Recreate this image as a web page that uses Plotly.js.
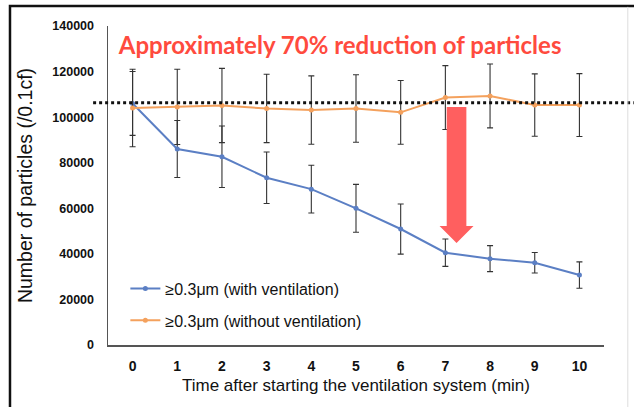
<!DOCTYPE html>
<html>
<head>
<meta charset="utf-8">
<script src="https://cdn.plot.ly/plotly-3.0.1.min.js"></script>
<style>html,body{margin:0;padding:0;background:#fff;}#chart{width:634px;height:407px;}</style>
</head>
<body>
<div id="chart"></div>
<script>
// ---- data ----
const minutes = [0, 1, 2, 3, 4, 5, 6, 7, 8, 9, 10];
const withVent = [106000, 86000, 82600, 73400, 68400, 60000, 50900, 40500, 37900, 36100, 30700];
const withVentErr = [14000, 12500, 13500, 11300, 10500, 10500, 11000, 6000, 5700, 4500, 5800];
const withoutVent = [104000, 104500, 105100, 103800, 103100, 103800, 102100, 108600, 109300, 105300, 105300];
const withoutVentErr = [17000, 16500, 16300, 15000, 15000, 14800, 14000, 14000, 14000, 13700, 13800];
const seriesNames = ['≥0.3μm (with ventilation)', '≥0.3μm (without ventilation)'];
const baselineLevel = 106300;
const titleText = 'Approximately 70% reduction of particles';
const yTickVals = [0, 20000, 40000, 60000, 80000, 100000, 120000, 140000];

// arrow annotation geometry (data coordinates)
const arrowX = 7.25, arrowTop = 104500, arrowNeck = 52200, arrowTip = 44800;
const bodyHalf = 0.22, headHalf = 0.38;

const errStyle = {type: 'data', visible: true, color: '#333', thickness: 1.1, width: 3};

const traces = [
  {x: minutes, y: withVent, name: seriesNames[0], type: 'scatter', mode: 'lines+markers', legendgroup: 'a',
   line: {color: '#5B7FC4', width: 2}, marker: {color: '#5B7FC4', size: 5},
   error_y: Object.assign({array: withVentErr}, errStyle)},
  {x: minutes, y: withoutVent, name: seriesNames[1], type: 'scatter', mode: 'lines+markers', legendgroup: 'b',
   line: {color: '#F4A15D', width: 2}, marker: {color: '#F4A15D', size: 5},
   error_y: Object.assign({array: withoutVentErr}, errStyle)}
];

const arrowPath = `M ${arrowX - bodyHalf},${arrowTop} L ${arrowX + bodyHalf},${arrowTop} L ${arrowX + bodyHalf},${arrowNeck} L ${arrowX + headHalf},${arrowNeck} L ${arrowX},${arrowTip} L ${arrowX - headHalf},${arrowNeck} L ${arrowX - bodyHalf},${arrowNeck} Z`;

const font = 'Liberation Sans, Arial, sans-serif';
const layout = {
  width: 634, height: 407,
  margin: {l: 108, r: 30, t: 26, b: 62},
  paper_bgcolor: '#fff', plot_bgcolor: '#fff',
  showlegend: true,
  title: {text: titleText, xref: 'paper', x: 0.468, xanchor: 'center', yref: 'paper', y: 0.94, yanchor: 'middle',
          font: {family: 'Lato, Open Sans, sans-serif', size: 24, color: '#FF4B3E', weight: 'bold'}},
  xaxis: {range: [-0.55, 10.55], tickmode: 'array', tickvals: minutes, ticktext: minutes.map(String),
          showgrid: false, zeroline: false, showline: true, linecolor: '#555', linewidth: 1.5, ticks: '',
          ticklabelstandoff: 8,
          tickfont: {family: font, size: 14, color: '#111', weight: 'bold'},
          title: {text: 'Time after starting the ventilation system (min)', standoff: 6,
                  font: {family: font, size: 17, color: '#111'}}},
  yaxis: {range: [0, 140000], tickmode: 'array', tickvals: yTickVals, ticktext: yTickVals.map(String),
          showgrid: false, zeroline: false, showline: true, linecolor: '#555', linewidth: 1.5, ticks: '',
          ticklabelstandoff: 10,
          tickfont: {family: font, size: 12.5, color: '#111', weight: 'bold'},
          title: {text: 'Number of particles (/0.1cf)', standoff: 14,
                  font: {family: font, size: 19.5, color: '#111'}}},
  legend: {x: 0.035, y: 0.23, xanchor: 'left', yanchor: 'top', bgcolor: 'rgba(0,0,0,0)',
           traceorder: 'grouped', tracegroupgap: 8,
           font: {family: font, size: 16, color: '#111'}, itemwidth: 30},
  shapes: [
    {type: 'line', xref: 'paper', yref: 'y', x0: -0.03, x1: 1.06, y0: baselineLevel, y1: baselineLevel,
     line: {color: '#111', width: 3, dash: 'dot'}},
    {type: 'path', xref: 'x', yref: 'y', path: arrowPath, fillcolor: '#FF5F5F', line: {width: 0}},
    {type: 'path', xref: 'paper', yref: 'paper', path: 'M -0.1976,-0.2 L -0.1976,1.0627 L 1.07,1.0627',
     line: {color: '#111', width: 2.5}},
    {type: 'line', xref: 'paper', yref: 'paper', x0: 1.048, x1: 1.048, y0: -0.2, y1: 1.06,
     line: {color: '#ddd', width: 1}}
  ]
};

Plotly.newPlot('chart', traces, layout, {displayModeBar: false, staticPlot: true});
</script>
</body>
</html>
